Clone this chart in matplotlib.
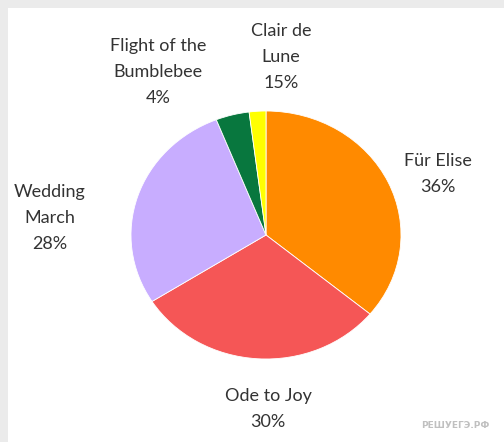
import matplotlib.pyplot as plt
from matplotlib.patches import Rectangle

# slice sizes as drawn in the picture (clockwise from 12 o'clock)
pieces = ["Für Elise", "Ode to Joy", "Wedding\nMarch", "Flight of the\nBumblebee", "Clair de\nLune"]
sizes = [36, 30, 28, 4, 2]
pct_labels = ["36%", "30%", "28%", "4%", "15%"]
colors = ["#FF8A00", "#F55656", "#C8ADFF", "#08773E", "#FFFF00"]

# label centres in pixels (x from left, y from top)
label_pos = [(438, 174), (268, 409), (50, 218), (158, 72), (281, 57)]

W, H = 504, 442
fig = plt.figure(figsize=(W / 100, H / 100), dpi=100)
fig.patch.set_facecolor("#EBEBEB")
fig.patches.append(Rectangle((8 / W, 0), 1, 1 - 8 / H, transform=fig.transFigure,
                             facecolor="white", edgecolor="none", zorder=-10))

# pie slightly wider than tall, as in the picture
cx, cy, rx, ry = 266, 235, 135, 124
ax = fig.add_axes([(cx - rx) / W, 1 - (cy + ry) / H, 2 * rx / W, 2 * ry / H])
ax.pie(sizes, colors=colors, startangle=90, counterclock=False,
       wedgeprops=dict(edgecolor="white", linewidth=0.6))
ax.set_aspect("auto")
ax.set_xlim(-1, 1)
ax.set_ylim(-1, 1)
ax.axis("off")

for name, pct, (px, py) in zip(pieces, pct_labels, label_pos):
    fig.text(px / W, 1 - py / H, name + "\n" + pct, ha="center", va="center",
             fontsize=13, family="Lato", color="#333333", linespacing=1.75)

fig.text(455 / W, 1 - 426 / H, "РЕШУЕГЭ.РФ", ha="center", va="center",
         fontsize=6.5, fontweight="bold", color="#C0C0C0", family="DejaVu Sans")

fig.savefig("out.png", dpi=100, facecolor=fig.get_facecolor())
